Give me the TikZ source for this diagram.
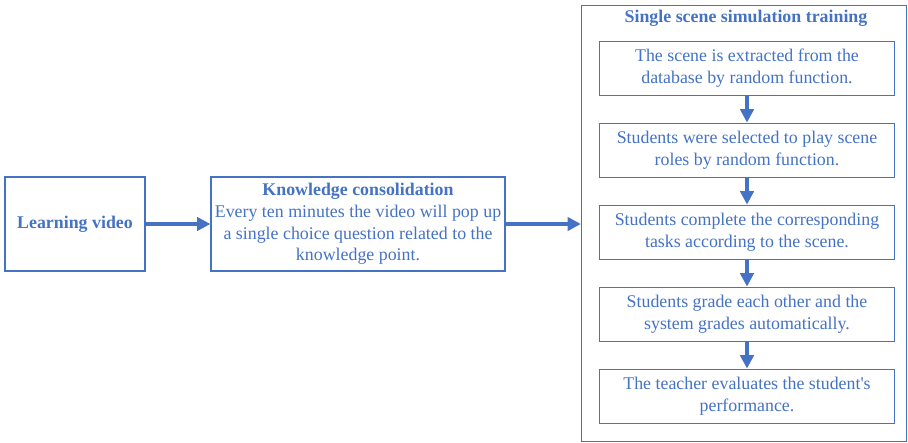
\documentclass[tikz,border=0pt]{standalone}
\usepackage{fontspec}
\setmainfont{Liberation Serif}
\usetikzlibrary{arrows.meta,positioning}
\definecolor{flowblue}{HTML}{4472C4}
\tikzset{
  box/.style={draw=flowblue,line width=0.9pt,rectangle,align=center,text=flowblue,inner sep=1pt,
    font=\fontsize{13.4}{16.3}\selectfont},
  stepbox/.style={box,minimum width=221pt,minimum height=41pt},
  flow/.style={draw=flowblue,line width=2.4pt,-{Triangle[length=10pt,width=10pt]}}
}
\begin{document}
\begin{tikzpicture}[x=0.75pt,y=-0.75pt]
  \useasboundingbox (0,0) rectangle (908,443);
  \node[box,minimum width=105pt,minimum height=70.5pt] (video) at (75,224) {\textbf{Learning video}};
  \node[box,minimum width=220.5pt,minimum height=70.5pt] (know) at (358,224)
    {\textbf{Knowledge consolidation}\\Every ten minutes the video will pop up\\a single choice question related to the\\knowledge point.};
  \node[box,line width=0.7pt,minimum width=244pt,minimum height=327.5pt] (scene) at (744,223.5) {};
  \node[text=flowblue,font=\fontsize{13.4}{16}\selectfont\bfseries] (title) at (746,18) {Single scene simulation training};
  \node[stepbox] (s1) at (747,68.5) {The scene is extracted from the\\database by random function.};
  \node[stepbox] (s2) at (747,150.5) {Students were selected to play scene\\roles by random function.};
  \node[stepbox] (s3) at (747,232.5) {Students complete the corresponding\\tasks according to the scene.};
  \node[stepbox] (s4) at (747,314.5) {Students grade each other and the\\system grades automatically.};
  \node[stepbox] (s5) at (747,396.5) {The teacher evaluates the student\textquotesingle s\\performance.};
  \draw[flow] (video.east) -- (know.west);
  \draw[flow] (know.east) -- (know.east -| scene.west);
  \draw[flow] (s1) -- (s2);
  \draw[flow] (s2) -- (s3);
  \draw[flow] (s3) -- (s4);
  \draw[flow] (s4) -- (s5);
\end{tikzpicture}
\end{document}
